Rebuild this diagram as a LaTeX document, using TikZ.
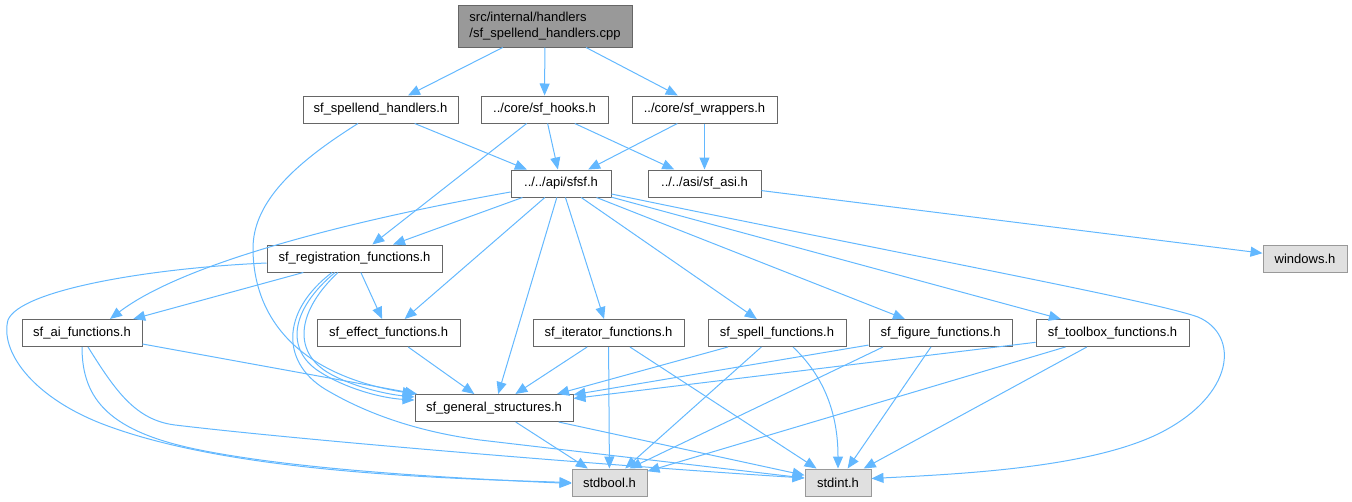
\documentclass[tikz,border=0pt]{standalone}
\usepackage{fontspec}
\setmainfont{Liberation Sans}
\usetikzlibrary{arrows.meta}
\definecolor{edgeblue}{HTML}{63B8FF}
\definecolor{boxborder}{HTML}{666666}
\definecolor{rootfill}{HTML}{999999}
\definecolor{extfill}{HTML}{E0E0E0}
\definecolor{extborder}{HTML}{999999}
\newcommand\fsz{\fontsize{13}{16}\selectfont}
\tikzset{
  hdr/.style={draw=boxborder, fill=white, line width=1pt, minimum height=27pt, inner sep=0pt, font=\fsz, text=black},
  ext/.style={hdr, draw=extborder, fill=extfill},
  dep/.style={draw=edgeblue, line width=1pt, -{Triangle[length=12pt,width=10pt,fill=edgeblue]}},
}
\begin{document}
\begin{tikzpicture}[x=1pt,y=-1pt]
\useasboundingbox (0,0) rectangle (1352,501);
% nodes
\node[hdr, fill=rootfill, minimum width=174pt, minimum height=42pt, align=left] (root) at (545,26) {src/internal/handlers\\/sf\_spellend\_handlers.cpp};
\node[hdr, minimum width=155pt] (spellend) at (380.5,109.5) {sf\_spellend\_handlers.h};
\node[hdr, minimum width=127pt] (hooks) at (544.5,109.5) {../core/sf\_hooks.h};
\node[hdr, minimum width=145pt] (wrappers) at (704.5,109.5) {../core/sf\_wrappers.h};
\node[hdr, minimum width=100pt] (sfsf) at (561,183.5) {../../api/sfsf.h};
\node[hdr, minimum width=113pt] (asi) at (704.5,183.5) {../../asi/sf\_asi.h};
\node[ext, minimum width=84pt] (windows) at (1305,258.5) {windows.h};
\node[hdr, minimum width=175pt] (reg) at (354.5,258.5) {sf\_registration\_functions.h};
\node[hdr, minimum width=120pt] (ai) at (82,333) {sf\_ai\_functions.h};
\node[hdr, minimum width=143pt] (effect) at (388.5,333) {sf\_effect\_functions.h};
\node[hdr, minimum width=151pt] (iter) at (608.5,333) {sf\_iterator\_functions.h};
\node[hdr, minimum width=138pt] (spell) at (777,333) {sf\_spell\_functions.h};
\node[hdr, minimum width=143pt] (figure) at (940.5,333) {sf\_figure\_functions.h};
\node[hdr, minimum width=153pt] (toolbox) at (1112.5,333) {sf\_toolbox\_functions.h};
\node[hdr, minimum width=158pt] (gs) at (494,408) {sf\_general\_structures.h};
\node[ext, minimum width=75pt] (stdbool) at (609.5,482.5) {stdbool.h};
\node[ext, minimum width=66pt] (stdint) at (838,482.5) {stdint.h};
% straight edges
\draw[dep] (root) -- (spellend);
\draw[dep] (root) -- (hooks);
\draw[dep] (root) -- (wrappers);
\draw[dep] (spellend) -- (sfsf);
\draw[dep] (hooks) -- (sfsf);
\draw[dep] (hooks) -- (asi);
\draw[dep] (hooks) -- (reg);
\draw[dep] (wrappers) -- (sfsf);
\draw[dep] (wrappers) -- (asi);
\draw[dep] (asi) -- (windows);
\draw[dep] (sfsf) -- (reg);
\draw[dep] (sfsf) -- (effect);
\draw[dep] (sfsf) -- (gs);
\draw[dep] (sfsf) -- (iter);
\draw[dep] (sfsf) -- (spell);
\draw[dep] (sfsf) -- (figure);
\draw[dep] (sfsf) -- (toolbox);
\draw[dep] (reg) -- (ai);
\draw[dep] (reg) -- (effect);
\draw[dep] (ai) -- (gs);
\draw[dep] (effect) -- (gs);
\draw[dep] (iter) -- (gs);
\draw[dep] (iter) -- (stdbool);
\draw[dep] (iter) -- (stdint);
\draw[dep] ([xshift=-49pt]spell.south) -- ([xshift=63pt]gs.north);
\draw[dep] (spell) -- (stdbool);
\draw[dep] (figure) -- (gs);
\draw[dep] ([xshift=-57.5pt]figure.south) -- ([xshift=20pt]stdbool.north);
\draw[dep] (figure) -- (stdint);
\draw[dep] (toolbox) -- (gs);
\draw[dep] (toolbox) -- (stdbool);
\draw[dep] (toolbox) -- (stdint);
\draw[dep] (gs) -- (stdbool);
\draw[dep] (gs) -- (stdint);
% curved edges
\draw[dep] ([xshift=-22.5pt]spellend.south) .. controls (300,160) and (252,200) .. (253,250)
  .. controls (254,320) and (300,375) .. ([yshift=14pt]gs.west);
\draw[dep] ([yshift=-8.5pt]sfsf.west) .. controls (380,215) and (190,258) .. ([xshift=28pt]ai.north);
\draw[dep] ([yshift=-10.5pt]sfsf.east) .. controls (900,254) and (1150,300) .. (1198,317)
  .. controls (1240,335) and (1235,395) .. (1160,433)
  .. controls (1090,468) and (960,474) .. ([yshift=4pt]stdint.east);
\draw[dep] ([yshift=-4.5pt]reg.west) .. controls (150,268) and (20,290) .. (8,320)
  .. controls (0,350) and (30,395) .. (100,423)
  .. controls (220,470) and (420,478) .. (stdbool.west);
\draw[dep] ([xshift=-19.5pt]reg.south) .. controls (290,310) and (285,350) .. (320,372)
  .. controls (345,388) and (380,398) .. ([yshift=8pt]gs.west);
\draw[dep] ([xshift=-16.5pt]reg.south) .. controls (298,310) and (292,350) .. (327,372)
  .. controls (350,386) and (385,394) .. ([yshift=11pt]gs.west);
\draw[dep] ([xshift=-22.5pt]reg.south) .. controls (280,312) and (280,365) .. (330,392)
  .. controls (370,415) and (420,432) .. (480,440) -- ([yshift=4.5pt]stdint.west);
\draw[dep] (ai.south) .. controls (82,400) and (110,432) .. (200,450)
  .. controls (300,470) and (450,478) .. ([yshift=-1pt]stdbool.west);
\draw[dep] ([xshift=6pt]ai.south) .. controls (115,390) and (135,420) .. (175,425)
  .. controls (300,440) and (600,465) .. ([yshift=4.5pt]stdint.west);
\draw[dep] ([xshift=16pt]spell.south) .. controls (828,380) and (838,420) .. (stdint.north);
\end{tikzpicture}
\end{document}
